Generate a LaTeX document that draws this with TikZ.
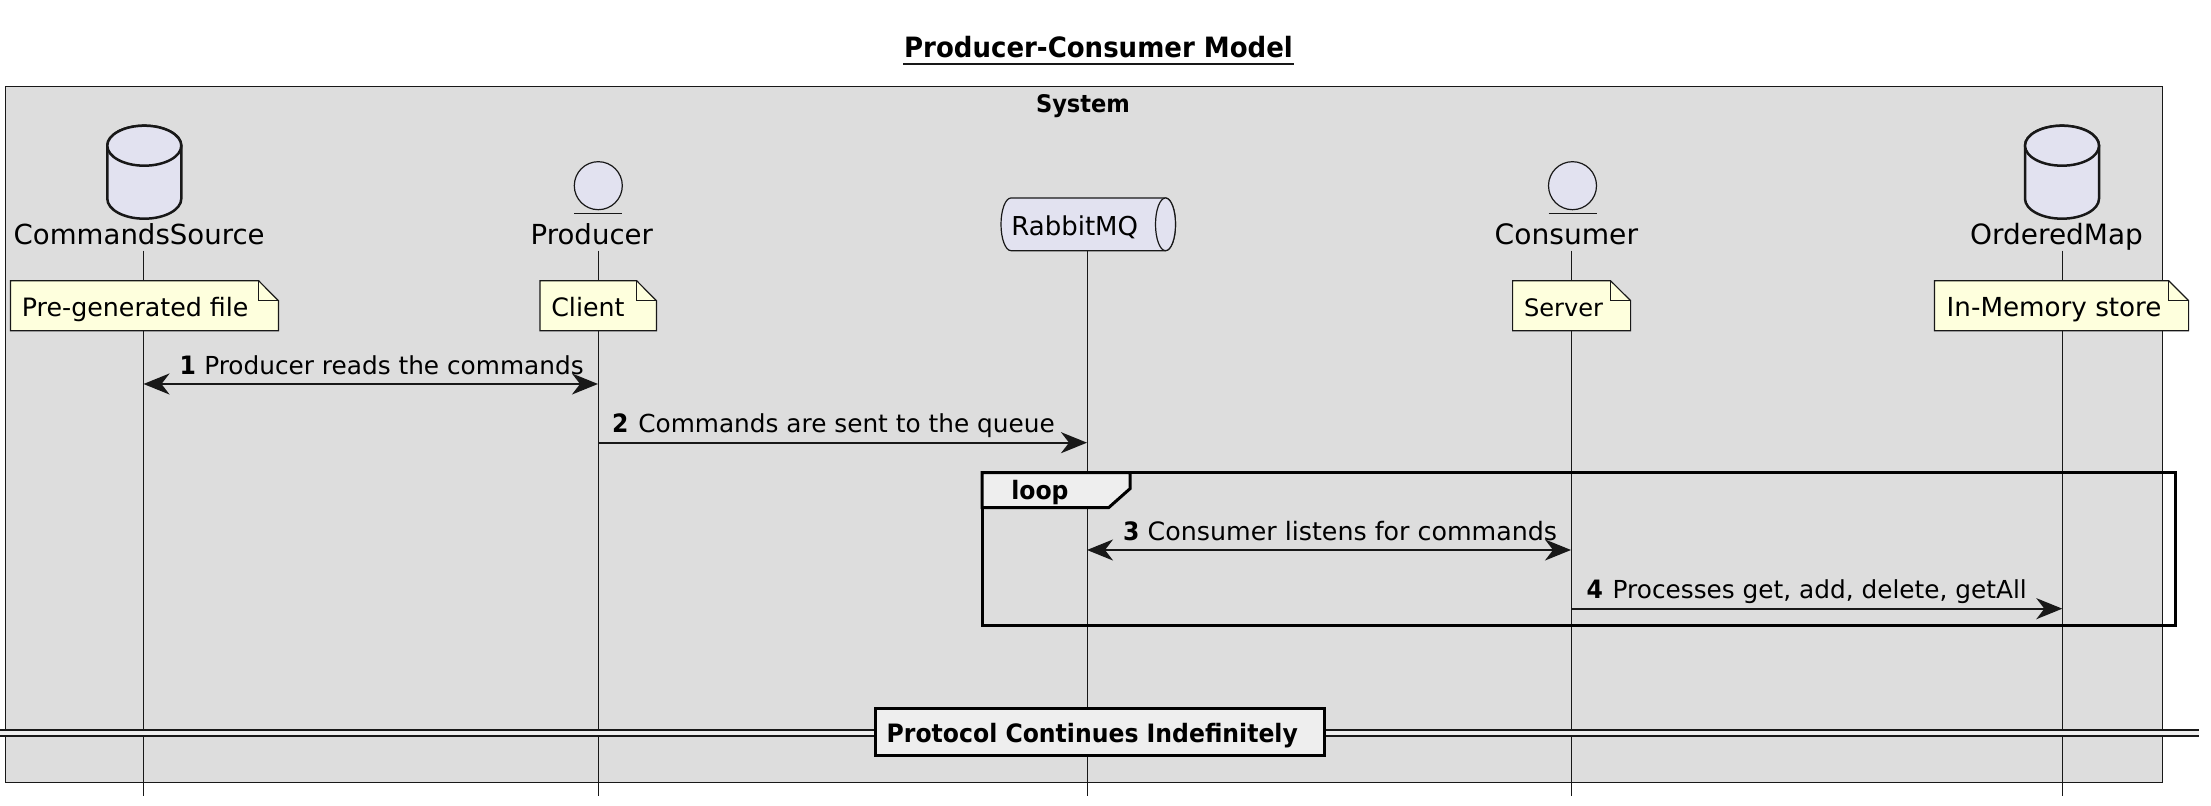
\documentclass[tikz,border=0pt]{standalone}
\usepackage{fontspec}
\usetikzlibrary{arrows.meta}
\setmainfont[BoldFeatures={FakeStretch=0.93}]{DejaVu Sans}
\definecolor{inkline}{HTML}{181818}
\definecolor{boxgray}{HTML}{DDDDDD}
\definecolor{partfill}{HTML}{E2E2F0}
\definecolor{notefill}{HTML}{FEFFDD}
\definecolor{framefill}{HTML}{EEEEEE}

\tikzset{
  partlabel/.style={anchor=base west, inner sep=0pt, font=\fontsize{7.85}{9}\selectfont},
  notelabel/.style={anchor=base west, inner sep=0pt, font=\fontsize{7.2}{9}\selectfont},
  msglabel/.style={anchor=base west, inner sep=0pt, font=\fontsize{7.05}{9}\selectfont},
  boldlabel/.style={anchor=base west, inner sep=0pt, font=\fontsize{7.2}{9}\selectfont\bfseries},
  lifeline/.style={draw=inkline, line width=.01cm},
  msgline/.style={draw=inkline, line width=.02cm, -{Stealth[length=.26cm, width=.21cm, inset=.08cm]}},
  bothline/.style={msgline, {Stealth[length=.26cm, width=.21cm, inset=.08cm]}-{Stealth[length=.26cm, width=.21cm, inset=.08cm]}},
  dbline/.style={draw=inkline, fill=partfill, line width=.025cm},
  thinline/.style={draw=inkline, fill=partfill, line width=.012cm},
  noteline/.style={draw=inkline, fill=notefill, line width=.012cm},
  frameline/.style={draw=black, line width=.03cm}
}

% database icon, #1 = middle
\newcommand{\dbicon}[1]{
\draw[dbline] (#1-.37,6.61) -- (#1-.37,6.08) arc[start angle=180, end angle=360, x radius=.37, y radius=.2] -- (#1+.37,6.61) arc[start angle=0, end angle=180, x radius=.37, y radius=.2];
\draw[dbline] (#1,6.61) ellipse (.37 and .2);
}
% entity icon, #1 = middle
\newcommand{\entityicon}[1]{
\draw[thinline] (#1,6.21) ellipse (.24 and .24);
\draw[thinline] (#1-.24,5.93) -- (#1+.24,5.93);
}
% note, #1 = left, #2 = right, #3 = fold
\newcommand{\notepaper}[3]{
\draw[noteline] (#1,4.76) -- (#1,5.26) -- (#3,5.26) -- (#2,5.06) -- (#2,4.76) -- cycle;
\draw[noteline, fill=none] (#3,5.26) -- (#3,5.06) -- (#2,5.06);
}

\begin{document}
\begin{tikzpicture}
\useasboundingbox (0,.007) rectangle (22.11,8.067);

% title
\node[inner xsep=0pt, inner ysep=.05cm, anchor=base, font=\fontsize{7.96}{9}\selectfont\bfseries] (title) at (10.985,7.49) {Producer-Consumer Model};
\draw[inkline, line width=.025cm] (title.south west) -- (title.south east);

% system box
\draw[fill=boxgray, draw=inkline, line width=.014cm] (.055,.24) rectangle (21.625,7.2);
\node[boldlabel, anchor=base, font=\fontsize{6.9}{9}\selectfont\bfseries] (system) at (10.83,6.94) {System};

% lifelines
\coordinate (srcTop) at (1.435,5.56);
\coordinate (srcEnd) at (1.435,.11);
\coordinate (prodTop) at (5.98,5.56);
\coordinate (prodEnd) at (5.98,.11);
\coordinate (mqTop) at (10.87,5.56);
\coordinate (mqEnd) at (10.87,.11);
\coordinate (consTop) at (15.71,5.56);
\coordinate (consEnd) at (15.71,.11);
\coordinate (mapTop) at (20.623,5.56);
\coordinate (mapEnd) at (20.623,.11);
\draw[lifeline] (srcTop) -- (srcEnd);
\draw[lifeline] (prodTop) -- (prodEnd);
\draw[lifeline] (mqTop) -- (mqEnd);
\draw[lifeline] (consTop) -- (consEnd);
\draw[lifeline] (mapTop) -- (mapEnd);

% participants
\dbicon{1.443}
\node[partlabel] (srcName) at (.13,5.62) {CommandsSource};
\entityicon{5.983}
\node[partlabel] (prodName) at (5.30,5.62) {Producer};
\draw[thinline] (10.11,6.087) -- (11.655,6.087) arc[start angle=90, end angle=-90, x radius=.1, y radius=.2635] -- (10.11,5.56) arc[start angle=270, end angle=90, x radius=.1, y radius=.2635] -- cycle;
\draw[thinline] (11.655,5.8235) ellipse (.1 and .2635);
\node[partlabel, font=\fontsize{7.4}{9}\selectfont] (mqName) at (10.106,5.71) {RabbitMQ};
\entityicon{15.725}
\node[partlabel, font=\fontsize{8}{9}\selectfont] (consName) at (14.94,5.62) {Consumer};
\dbicon{20.62}
\node[partlabel, font=\fontsize{7.95}{9}\selectfont] (mapName) at (19.695,5.62) {OrderedMap};

% notes
\notepaper{.104}{2.784}{2.586}
\node[notelabel] (srcNote) at (.212,4.9) {Pre-generated file};
\notepaper{5.4}{6.564}{6.366}
\node[notelabel] (prodNote) at (5.506,4.9) {Client};
\notepaper{15.126}{16.306}{16.105}
\node[notelabel, font=\fontsize{6.85}{9}\selectfont] (consNote) at (15.233,4.9) {Server};
\notepaper{19.345}{21.886}{21.686}
\node[notelabel, font=\fontsize{7.45}{9}\selectfont] (mapNote) at (19.46,4.9) {In-Memory store};

% messages
\coordinate (src1) at (1.435,4.227);
\coordinate (prod1) at (5.98,4.227);
\draw[bothline] (src1) -- (prod1);
\node[boldlabel] (num1) at (1.79,4.32) {1};
\node[msglabel] (msg1) at (2.036,4.32) {Producer reads the commands};

\coordinate (prod2) at (5.98,3.64);
\coordinate (mq2) at (10.87,3.64);
\draw[msgline] (prod2) -- (mq2);
\node[boldlabel] (num2) at (6.115,3.74) {2};
\node[msglabel] (msg2) at (6.376,3.74) {Commands are sent to the queue};

% loop frame
\draw[frameline] (9.82,1.81) rectangle (21.75,3.34);
\draw[frameline, fill=framefill] (9.82,3.34) -- (11.3,3.34) -- (11.3,3.18) -- (11.086,2.99) -- (9.82,2.99) -- cycle;
\node[boldlabel] (loopName) at (10.106,3.07) {loop};

\coordinate (mq3) at (10.87,2.567);
\coordinate (cons3) at (15.71,2.567);
\draw[bothline] (mq3) -- (cons3);
\node[boldlabel] (num3) at (11.225,2.66) {3};
\node[msglabel, font=\fontsize{7.2}{9}\selectfont] (msg3) at (11.47,2.66) {Consumer listens for commands};

\coordinate (cons4) at (15.71,1.98);
\coordinate (map4) at (20.623,1.98);
\draw[msgline] (cons4) -- (map4);
\node[boldlabel] (num4) at (15.86,2.08) {4};
\node[msglabel] (msg4) at (16.12,2.08) {Processes get, add, delete, getAll};

% divider
\coordinate (divLeft) at (0,.7365);
\coordinate (divRight) at (21.99,.7365);
\draw[draw=inkline, line width=.02cm, double=framefill, double distance=.04cm] (divLeft) -- (divRight);
\draw[fill=framefill, draw=black, line width=.03cm] (8.75,.51) rectangle (13.247,.983);
\node[boldlabel] (divName) at (8.86,.643) {Protocol Continues Indefinitely};
\end{tikzpicture}
\end{document}
